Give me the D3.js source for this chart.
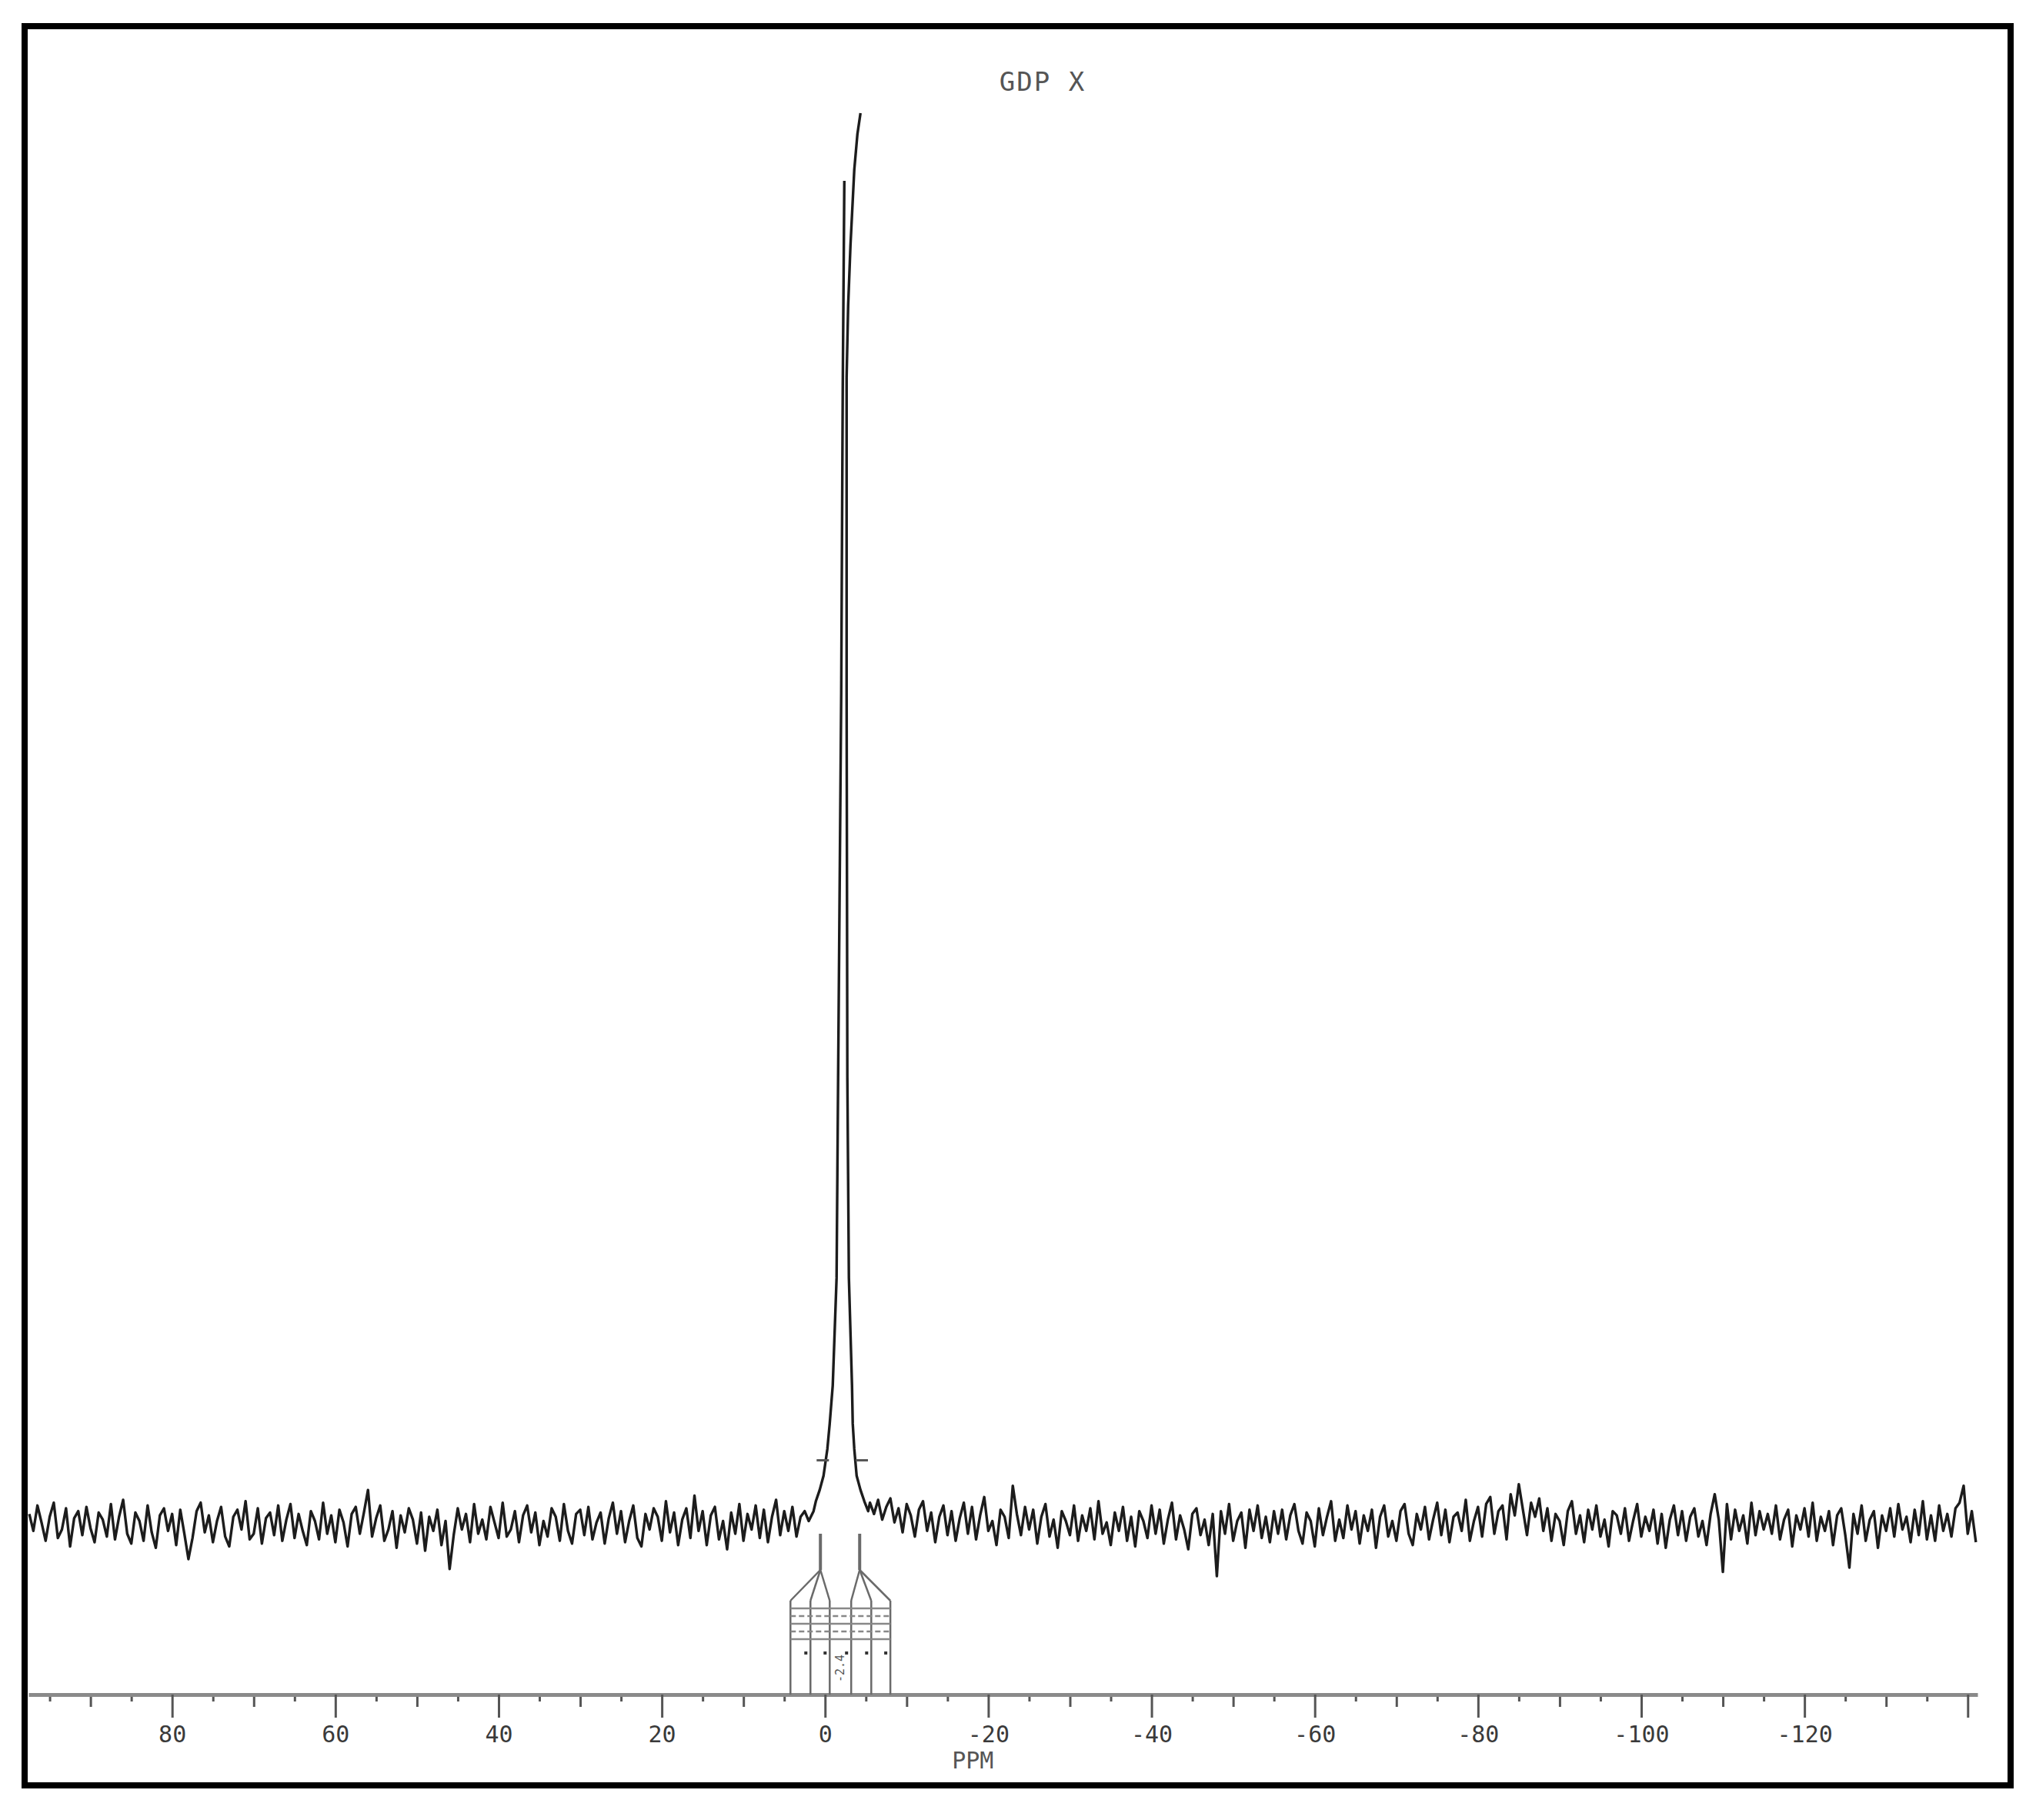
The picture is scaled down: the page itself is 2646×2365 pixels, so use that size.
<!DOCTYPE html>
<html>
<head>
<meta charset="utf-8">
<title>GDP X</title>
<script src="https://cdn.jsdelivr.net/npm/d3@7"></script>
<style>
  html, body { margin: 0; padding: 0; background: #fff; }
  svg { display: block; }
</style>
</head>
<body>
<div id="chart"></div>
<script>
// Spectrum values.
// Baseline noise is sampled every 0.5 ppm; intensity 1000 = top of the main peak.
const NOISE_STEP = -0.5;
const NOISE_LEFT_START = 97.5;   // ppm of noiseLeft[0]
const NOISE_RIGHT_START = -5.5;  // ppm of noiseRight[0]

const noiseLeft = [
  8, -4, 14, 2, -11, 6, 16, -9, -3, 12, -15, 5, 10, -7, 13, -2, -12, 9, 4, -8,
  15, -10, 6, 18, -6, -13, 9, 3, -11, 14, -5, -16, 7, 12, -4, 8, -14, 11, -6, -24,
  -9, 10, 16, -5, 7, -12, 3, 13, -8, -15, 6, 11, -3, 17, -10, -6, 12, -13, 5, 9,
  -7, 14, -11, 4, 15, -9, 8, -4, -14, 10, 3, -10, 16, -6, 7, -12, 11, 2, -15, 8,
  13, -6, 9, 25, -8, 5, 14, -11, -3, 10, -16, 7, -5, 12, 4, -13, 9, -18, 6, -4,
  11, -14, 3, -31, -7, 12, -3, 8, -12, 15, -6, 4, -10, 13, 2, -9, 16, -8, -3, 10,
  -12, 7, 14, -5, 9, -14, 3, -8, 12, 6, -11, 15, -4, -13, 8, 11, -7, 13, -10, 2,
  9, -13, 5, 16, -6, 10, -12, 3, 14, -9, -15, 8, -3, 12, 6, -11, 17, -5, 9, -14,
  4, 12, -9, 21, -4, 10, -14, 7, 13, -10, 3, -17, 9, -6, 15, -11, 8, -3, 14, -9,
  11, -12, 6, 18, -7, 10, -4, 13, -8, 6, 10, 3
];

const noiseRight = [
  16, 8, 18, 4, 13, 19, 2, 12, -5, 15, 7, -8, 11, 17, -4, 9, -12, 6, 14, -7,
  10, -11, 5, 16, -6, 13, -10, 7, 20, -4, 3, -14, 11, 6, -9, 28, 8, -7, 13, -3,
  11, -13, 6, 15, -8, 4, -16, 10, 3, -7, 14, -11, 7, -4, 12, -10, 17, -6, 2, -14,
  9, -4, 13, -11, 6, -15, 10, 3, -9, 14, -6, 11, -13, 4, 16, -10, 7, -3, -17, 8,
  12, -7, 4, -14, 8, -36, 10, -6, 15, -11, 3, 9, -16, 11, -4, 14, -9, 6, -12, 10,
  -6, 11, -10, 7, 15, -4, -13, 9, 3, -15, 12, -7, 6, 17, -11, 4, -9, 14, -3, 10,
  -13, 7, -4, 11, -16, 6, 14, -8, 3, -11, 10, 15, -6, -14, 8, -3, 13, -10, 4, 16,
  -7, 11, -12, 6, 9, -4, 18, -11, 3, 13, -8, 15, 20, -6, 10, 14, -10, 22, 7, 29,
  11, -7, 16, 6, 19, -4, 12, -11, 8, 3, -14, 10, 17, -6, 7, -12, 11, -3, 14, -8,
  4, -15, 10, 7, -6, 12, -11, 3, 15, -8, 6, -4, 11, -13, 8, -16, 4, 14, -7, 10,
  -11, 6, 12, -8, 3, -14, 8, 22, 4, -33, 15, -10, 11, -4, 7, -13, 16, -7, 10, -3,
  8, -6, 14, -10, 4, 11, -15, 7, -3, 12, -8, 16, -11, 6, -4, 10, -14, 7, 12, -7,
  -30, 8, -6, 14, -11, 4, 10, -16, 7, -4, 12, -8, 15, -3, 6, -12, 11, -7, 17, -10,
  7, -11, 14, -4, 8, -8, 12, 16, 28, -6, 10, -12
];

// Main peak: rising (left) edge, then the falling edge; the pen left a gap at the top.
const peakRisePpm = [1.41, 1.13, 0.66, 0.19, -0.28, -0.57, -0.94, -1.41, -1.60, -1.98, -2.17, -2.36];
const peakRiseI   = [10, 17, 25, 35, 54, 72, 99, 175, 317, 590, 808, 952];
const peakFallPpm = [-4.34, -3.96, -3.58, -3.11, -2.83, -2.64, -2.64, -2.73, -2.92, -3.30, -3.39, -3.58, -3.87, -4.34, -4.81, -5.28];
const peakFallI   = [1000, 985, 960, 906, 864, 813, 590, 317, 175, 99, 72, 54, 35, 25, 17, 10];

// Small cross marks on the peak flanks
const flankMarkPpm = [0.28, -4.5];
const flankMarkI = 46;

// Peak-pick / integral leaders under the baseline
const stubPpm = [0.57, -4.24];
const pickPpm = [4.24, 1.79, -0.57, -3.2, -5.66, -8.0];
const pickGroups = [[0, 1, 2], [3, 4, 5]];
const pickText = "-2.4";

const majorTicks = [80, 60, 40, 20, 0, -20, -40, -60, -80, -100, -120, -140];
const majorLabels = ["80", "60", "40", "20", "0", "-20", "-40", "-60", "-80", "-100", "-120", ""];
const title = "GDP X";
const xLabel = "PPM";
const xLabelPpm = -18.1;

// --- layout ---
const W = 2646, H = 2365;
const axisY = 2202;
const font = "'DejaVu Sans Mono', 'Liberation Mono', monospace";

const svg = d3.select("#chart").append("svg")
  .attr("width", W).attr("height", H)
  .attr("viewBox", `0 0 ${W} ${H}`)
  .style("background", "#fff");

const x = d3.scaleLinear().domain([97.6, -141.2]).range([37, 2570]);
const y = d3.scaleLinear().domain([0, 1000]).range([1982, 147]);

// Frame
svg.append("rect")
  .attr("x", 32).attr("y", 34).attr("width", 2581).attr("height", 2286)
  .attr("fill", "none").attr("stroke", "#000").attr("stroke-width", 8);

// Title
svg.append("text")
  .attr("x", 1355).attr("y", 118)
  .attr("text-anchor", "middle")
  .attr("font-family", font).attr("font-size", 34)
  .attr("letter-spacing", 2)
  .attr("fill", "#555")
  .text(title);

// Axes: short (5), medium (10) and long labelled (20) ticks
const fifths = d3.range(95, -140, -5).filter(v => v % 10 !== 0);
const tens = d3.range(90, -140, -10).filter(v => v % 20 !== 0);

function styleAxis(g, color, width) {
  g.selectAll(".tick line").attr("stroke", color).attr("stroke-width", width);
}

svg.append("g").attr("transform", `translate(0,${axisY})`)
  .call(d3.axisBottom(x).tickValues(fifths).tickSize(9).tickFormat(""))
  .call(g => g.select(".domain").remove())
  .call(g => styleAxis(g, "#555", 3));

svg.append("g").attr("transform", `translate(0,${axisY})`)
  .call(d3.axisBottom(x).tickValues(tens).tickSize(16).tickFormat(""))
  .call(g => g.select(".domain").remove())
  .call(g => styleAxis(g, "#555", 3));

svg.append("g").attr("transform", `translate(0,${axisY})`)
  .call(d3.axisBottom(x).tickValues(majorTicks).tickSize(30).tickSizeOuter(0)
    .tickPadding(11).tickFormat((d, i) => majorLabels[i]))
  .call(g => g.select(".domain").attr("stroke", "#8a8a8a").attr("stroke-width", 5))
  .call(g => styleAxis(g, "#555", 3))
  .call(g => g.selectAll(".tick text")
    .attr("font-family", font).attr("font-size", 30).attr("fill", "#3a3a3a"));

svg.append("text")
  .attr("x", x(xLabelPpm)).attr("y", 2298)
  .attr("text-anchor", "middle")
  .attr("font-family", font).attr("font-size", 30)
  .attr("fill", "#555")
  .text(xLabel);

// Spectrum trace
const pts = [];
noiseLeft.forEach((v, i) => pts.push({ ppm: NOISE_LEFT_START + i * NOISE_STEP, i: v }));
peakRisePpm.forEach((p, k) => pts.push({ ppm: p, i: peakRiseI[k] }));
pts.push(null);
peakFallPpm.forEach((p, k) => pts.push({ ppm: p, i: peakFallI[k] }));
noiseRight.forEach((v, i) => pts.push({ ppm: NOISE_RIGHT_START + i * NOISE_STEP, i: v }));

const line = d3.line().defined(d => d).x(d => x(d.ppm)).y(d => y(d.i));
svg.append("path")
  .datum(pts)
  .attr("fill", "none")
  .attr("stroke", "#1c1c1c")
  .attr("stroke-width", 3.4)
  .attr("stroke-linejoin", "round")
  .attr("d", line);

// Cross marks on the flanks
svg.selectAll(".flank").data(flankMarkPpm).join("line")
  .attr("x1", d => x(d) - 8).attr("x2", d => x(d) + 8)
  .attr("y1", y(flankMarkI)).attr("y2", y(flankMarkI))
  .attr("stroke", "#555").attr("stroke-width", 3);

// Peak-pick leaders
const stubTop = 1993, stubBottom = 2040, fanEnd = 2080;
const bandYs = [2090, 2100, 2110, 2120, 2130];
const ann = svg.append("g").attr("stroke", "#6a6a6a").attr("stroke-width", 2.5).attr("fill", "none");

ann.selectAll(".stub").data(stubPpm).join("line")
  .attr("x1", d => x(d)).attr("x2", d => x(d))
  .attr("y1", stubTop).attr("y2", stubBottom)
  .attr("stroke-width", 4);

pickGroups.forEach((grp, gi) => {
  ann.selectAll(`.fan${gi}`).data(grp).join("line")
    .attr("x1", x(stubPpm[gi])).attr("y1", stubBottom)
    .attr("x2", k => x(pickPpm[k])).attr("y2", fanEnd);
});

ann.selectAll(".pick").data(pickPpm).join("line")
  .attr("x1", d => x(d)).attr("x2", d => x(d))
  .attr("y1", fanEnd).attr("y2", axisY);

ann.selectAll(".band").data(bandYs).join("line")
  .attr("x1", x(pickPpm[0])).attr("x2", x(pickPpm[pickPpm.length - 1]))
  .attr("y1", d => d).attr("y2", d => d)
  .attr("stroke-dasharray", (d, i) => i % 2 ? "7 4" : null)
  .attr("stroke", "#888");

svg.selectAll(".pickdot").data(pickPpm.slice(1)).join("rect")
  .attr("x", d => x(d) - 8).attr("y", 2146)
  .attr("width", 4).attr("height", 4)
  .attr("fill", "#333");

svg.append("text")
  .attr("transform", `translate(${x((pickPpm[2] + pickPpm[3]) / 2) + 5},2168) rotate(-90)`)
  .attr("text-anchor", "middle")
  .attr("font-family", font).attr("font-size", 15)
  .attr("fill", "#555")
  .text(pickText);
</script>
</body>
</html>
